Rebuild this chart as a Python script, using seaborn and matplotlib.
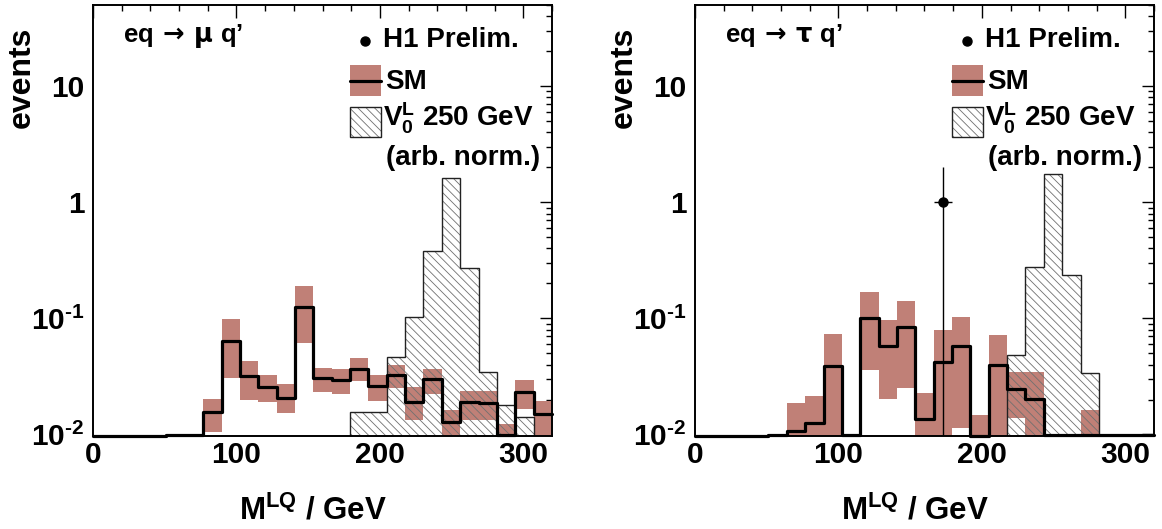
import numpy as np
import pandas as pd
import matplotlib
matplotlib.use("Agg")
import matplotlib.pyplot as plt
import seaborn as sns
from matplotlib.patches import Rectangle
from matplotlib.lines import Line2D
from matplotlib.ticker import (FixedLocator, FixedFormatter, MultipleLocator,
                               LogLocator, NullFormatter)

# ---------------------------------------------------------------------------
# Binning: 25 bins of 12.8 GeV between 0 and 320 GeV
# ---------------------------------------------------------------------------
N_BINS = 25
BIN_WIDTH = 12.8
NAN = np.nan

# ---- eq -> mu q' channel --------------------------------------------------
mu_sm = [0, 0, 0, 0, 0, 0, 0.0157, 0.0644, 0.0316, 0.0258, 0.0208, 0.1254,
         0.0304, 0.0296, 0.0368, 0.0262, 0.0325, 0.0192, 0.0300, 0.0128,
         0.0191, 0.0188, 0, 0.0234, 0.0151]
mu_sm_lo = [NAN, NAN, NAN, NAN, NAN, NAN, 0.0105, 0.0304, 0.0200, 0.0191,
            0.0153, 0.0615, 0.0230, 0.0222, 0.0290, 0.0195, 0.0249, 0.0132,
            0.0222, 0, 0.0132, 0.0132, 0, 0.0167, 0]
mu_sm_hi = [NAN, NAN, NAN, NAN, NAN, NAN, 0.0204, 0.0987, 0.0432, 0.0323,
            0.0270, 0.189, 0.0373, 0.0366, 0.0456, 0.0327, 0.0399, 0.0254,
            0.0368, 0.0164, 0.0238, 0.0238, 0.0124, 0.0294, 0.0195]
mu_lq = [0, 0, 0, 0, 0, 0, 0, 0, 0, 0, 0, 0, 0, 0, 0.0157, 0.0157, 0.0462,
         0.103, 0.38, 1.62, 0.27, 0.0347, 0.018, 0.0142, 0]
mu_data_mass = []
mu_data_events = []

# ---- eq -> tau q' channel -------------------------------------------------
tau_sm = [0, 0, 0, 0, 0, 0.0108, 0.0126, 0.0388, 0, 0.101, 0.0577, 0.0847,
          0.0136, 0.0417, 0.0574, 0, 0.0396, 0.0246, 0.0203, 0, 0, 0, 0, 0, 0]
tau_sm_lo = [NAN, NAN, NAN, NAN, NAN, 0, 0, 0, NAN, 0.0359, 0.0203, 0.0251,
             0, 0, 0.0114, 0, 0, 0.0139, 0, NAN, NAN, 0, NAN, NAN, NAN]
tau_sm_hi = [NAN, NAN, NAN, NAN, NAN, 0.0186, 0.0214, 0.0733, NAN, 0.169,
             0.097, 0.141, 0.0227, 0.0794, 0.1026, 0.0146, 0.0718, 0.0345,
             0.0345, NAN, NAN, 0.0162, NAN, NAN, NAN]
tau_lq = [0, 0, 0, 0, 0, 0, 0, 0, 0, 0, 0, 0, 0, 0, 0, 0, 0, 0.0483, 0.279,
          1.75, 0.235, 0.0336, 0, 0, 0]
tau_data_mass = [172.8]
tau_data_events = [1]

# axis settings
YMIN, YMAX = 0.0098, 50
Y_MAJOR = [0.01, 0.1, 1, 10]
Y_LABELS = [r"$10^{\text{-2}}$", r"$10^{\text{-1}}$", "1", "10"]

BAND = "#C08077"
HATCH_GREY = "#707070"
HATCH = "\\\\\\\\"

sns.set_style("white")
plt.rcParams["font.family"] = ["Liberation Sans", "DejaVu Sans"]
plt.rcParams["font.weight"] = "bold"
plt.rcParams["text.color"] = "black"
plt.rcParams["axes.labelcolor"] = "black"
plt.rcParams["xtick.color"] = "black"
plt.rcParams["ytick.color"] = "black"
plt.rcParams["mathtext.fontset"] = "custom"
plt.rcParams["mathtext.rm"] = "Liberation Sans:bold"
plt.rcParams["mathtext.bf"] = "Liberation Sans:bold"
plt.rcParams["mathtext.it"] = "Liberation Sans:bold"
plt.rcParams["mathtext.sf"] = "DejaVu Sans"
plt.rcParams["hatch.color"] = HATCH_GREY
plt.rcParams["hatch.linewidth"] = 0.6
plt.rcParams["axes.linewidth"] = 1.4

W, H = 1162, 529
fig = plt.figure(figsize=(W / 100, H / 100), dpi=100)
fig.patch.set_facecolor("white")

AX_W, AX_H = 459, 430.5
AX_BOTTOM = 435.5
panel_left = [93, 695]


def draw_panel(ax, sm, lo, hi, lq, data_m, data_n):
    edges = [i * BIN_WIDTH for i in range(N_BINS + 1)]
    centers = [e + BIN_WIDTH / 2 for e in edges[:-1]]
    edges_a = np.asarray(edges)
    ax.set_yscale("log")

    # SM uncertainty band
    lo = np.asarray(lo, float)
    hi = np.asarray(hi, float)
    ok = ~np.isnan(hi)
    lo_c = np.maximum(lo[ok], YMIN)
    ax.bar(edges_a[:-1][ok], hi[ok] - lo_c, bottom=lo_c, width=BIN_WIDTH,
           align="edge", color=BAND, linewidth=0, zorder=1)

    # leptoquark signal (arbitrary normalisation)
    lq_c = np.maximum(np.asarray(lq, float), YMIN)
    ax.stairs(lq_c, edges_a, baseline=YMIN, fill=True, facecolor="none",
              edgecolor=HATCH_GREY, hatch=HATCH, linewidth=0, zorder=2)
    ax.stairs(lq_c, edges_a, baseline=YMIN, fill=False, color="#222222",
              linewidth=1.0, zorder=3)

    # SM expectation
    sm_df = pd.DataFrame({"mass": centers,
                          "events": np.maximum(np.asarray(sm, float), YMIN)})
    sns.histplot(data=sm_df, x="mass", weights="events", bins=edges,
                 element="step", fill=False, color="black", linewidth=2.3,
                 ax=ax, zorder=4, clip_on=False)

    # data
    if len(data_m):
        n = np.asarray(data_n, float)
        ax.errorbar(data_m, n, yerr=np.sqrt(n), xerr=BIN_WIDTH / 2, fmt="o",
                    color="black", ms=6.5, elinewidth=1.0, capsize=0,
                    zorder=5)

    ax.set_xlim(0, 320)
    ax.set_ylim(YMIN, YMAX)
    ax.set_xlabel("")
    ax.set_ylabel("")

    ax.xaxis.set_major_locator(MultipleLocator(100))
    ax.xaxis.set_minor_locator(MultipleLocator(20))
    ax.yaxis.set_major_locator(FixedLocator(Y_MAJOR))
    ax.yaxis.set_major_formatter(FixedFormatter(Y_LABELS))
    ax.yaxis.set_minor_locator(LogLocator(base=10, subs=np.arange(2, 10)))
    ax.yaxis.set_minor_formatter(NullFormatter())
    ax.tick_params(which="both", direction="in", top=True, right=True,
                   width=1.0, color="black")
    ax.tick_params(which="major", length=9)
    ax.tick_params(which="minor", length=4.5)
    ax.tick_params(axis="x", which="major", labelsize=21.5, pad=4.2)
    ax.tick_params(axis="y", which="major", labelsize=21.5, pad=6)
    for lab in ax.get_xticklabels() + ax.get_yticklabels():
        lab.set_fontweight("bold")
        lab.set_color("black")
    for sp in ax.spines.values():
        sp.set_linewidth(1.4)
        sp.set_color("black")
        sp.set_zorder(6)


def px_to_ax(px, py):
    return (px / AX_W, (AX_BOTTOM - py) / AX_H)


def draw_legend(ax, channel):
    tr = ax.transAxes
    # process label
    x, y = px_to_ax(30, 42)
    ax.text(x, y, channel, transform=tr, fontsize=18.5, fontweight="bold",
            ha="left", va="baseline")
    # H1 Prelim. marker
    x, y = px_to_ax(272, 41)
    ax.add_line(Line2D([x], [y], marker="o", ms=6.5, color="black",
                       transform=tr))
    x, y = px_to_ax(290, 47)
    ax.text(x, y, "H1 Prelim.", transform=tr, fontsize=20,
            fontweight="bold", ha="left", va="baseline")
    # SM entry
    x0, y0 = px_to_ax(257, 96)
    x1, y1 = px_to_ax(288, 65)
    ax.add_patch(Rectangle((x0, y0), x1 - x0, y1 - y0, transform=tr,
                           facecolor=BAND, edgecolor="none", zorder=7))
    ym = px_to_ax(0, 80.5)[1]
    ax.add_line(Line2D([x0, x1], [ym, ym], color="black", lw=2.3,
                       transform=tr, zorder=8))
    x, y = px_to_ax(292, 89)
    ax.text(x, y, "SM", transform=tr, fontsize=20, fontweight="bold",
            ha="left", va="baseline")
    # signal entry
    x0, y0 = px_to_ax(257, 137)
    x1, y1 = px_to_ax(288, 107)
    ax.add_patch(Rectangle((x0, y0), x1 - x0, y1 - y0, transform=tr,
                           facecolor="none", edgecolor=HATCH_GREY,
                           hatch=HATCH, linewidth=0, zorder=7))
    ax.add_patch(Rectangle((x0, y0), x1 - x0, y1 - y0, transform=tr,
                           facecolor="none", edgecolor="#222222",
                           linewidth=1.0, zorder=8))
    x, y = px_to_ax(290, 127)
    ax.text(x, y, r"$\mathrm{V}_{\mathrm{0}}^{\mathrm{L}}$ 250 GeV",
            transform=tr, fontsize=20, fontweight="bold", ha="left",
            va="baseline")
    x, y = px_to_ax(447, 165)
    ax.text(x, y, "(arb. norm.)", transform=tr, fontsize=20,
            fontweight="bold", ha="right", va="baseline")


channels = [r"eq$\:\mathsf{\rightarrow}\:\mathsf{\mu}$ q’",
            r"eq$\:\mathsf{\rightarrow}\:\mathsf{\tau}$ q’"]
panels = [
    (mu_sm, mu_sm_lo, mu_sm_hi, mu_lq, mu_data_mass, mu_data_events),
    (tau_sm, tau_sm_lo, tau_sm_hi, tau_lq, tau_data_mass, tau_data_events),
]

for left, chan, pdata in zip(panel_left, channels, panels):
    ax = fig.add_axes([left / W, (H - AX_BOTTOM) / H, AX_W / W, AX_H / H])
    draw_panel(ax, *pdata)
    draw_legend(ax, chan)
    # axis titles
    fig.text((left - 71) / W, 1 - 27 / H, "events", rotation=90,
             ha="center", va="top", fontsize=23, fontweight="bold")
    fig.text((left + 219.5) / W, 1 - 520 / H,
             r"$\mathrm{M}^{\mathrm{LQ}}$ / GeV", ha="center",
             va="baseline", fontsize=22.5, fontweight="bold")

fig.savefig("out.png", dpi=100, facecolor="white")
